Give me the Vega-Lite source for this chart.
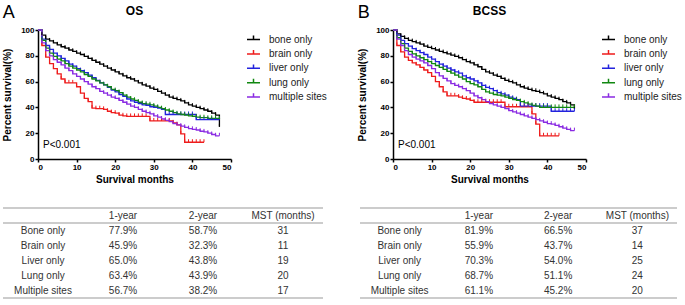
{
"$schema": "https://vega.github.io/schema/vega-lite/v6.json",
"padding": {"left": 2, "top": 4, "right": 0, "bottom": 0},
"config": {
  "font": "Liberation Sans",
  "view": {"stroke": null},
  "axis": {"domainColor": "#000", "domainWidth": 1.5, "tickColor": "#000", "tickWidth": 1.5, "tickSize": 3, "labelFont": "Liberation Sans", "labelFontWeight": "bold", "labelFontSize": 8, "labelColor": "#000", "titleFont": "Liberation Sans", "titleFontWeight": "bold", "titleFontSize": 10, "titleColor": "#000", "grid": false, "labelPadding": 1, "labelOverlap": false},
  "axisX": {"titlePadding": 3},
  "axisY": {"titlePadding": 8},
  "legend": {"orient": "right", "labelFont": "Liberation Sans", "labelFontSize": 10, "labelColor": "#222", "symbolType": "M-1,0H1M0,0V-0.6", "symbolSize": 169, "symbolStrokeWidth": 1.5, "rowPadding": 1.4, "labelOffset": 8, "offset": 12, "padding": 2},
  "title": {"font": "Liberation Sans", "color": "#000"}
},
"datasets": {
  "kmA": [
{"g":"bone only","t":0,"s":100},{"g":"bone only","t":1,"s":96},{"g":"bone only","t":2,"s":93},{"g":"bone only","t":3,"s":91.5},{"g":"bone only","t":4,"s":90},{"g":"bone only","t":5,"s":88.5},{"g":"bone only","t":6,"s":87},{"g":"bone only","t":7,"s":86},{"g":"bone only","t":8,"s":84.5},{"g":"bone only","t":9,"s":83.5},{"g":"bone only","t":10,"s":82},{"g":"bone only","t":11,"s":81},{"g":"bone only","t":12,"s":79.5},{"g":"bone only","t":13,"s":78},{"g":"bone only","t":14,"s":76.5},{"g":"bone only","t":15,"s":75},{"g":"bone only","t":16,"s":73.5},{"g":"bone only","t":17,"s":72},{"g":"bone only","t":18,"s":70.5},{"g":"bone only","t":19,"s":69},{"g":"bone only","t":20,"s":67.5},{"g":"bone only","t":21,"s":66},{"g":"bone only","t":22,"s":64.5},{"g":"bone only","t":23,"s":63},{"g":"bone only","t":24,"s":62},{"g":"bone only","t":25,"s":60.5},{"g":"bone only","t":26,"s":59},{"g":"bone only","t":27,"s":57.5},{"g":"bone only","t":28,"s":56.5},{"g":"bone only","t":29,"s":55},{"g":"bone only","t":30,"s":54},{"g":"bone only","t":31,"s":52.5},{"g":"bone only","t":32,"s":51},{"g":"bone only","t":33,"s":49.5},{"g":"bone only","t":34,"s":48},{"g":"bone only","t":35,"s":47},{"g":"bone only","t":36,"s":46},{"g":"bone only","t":37,"s":45},{"g":"bone only","t":38,"s":43.5},{"g":"bone only","t":39,"s":42},{"g":"bone only","t":40,"s":41},{"g":"bone only","t":41,"s":40},{"g":"bone only","t":42,"s":39},{"g":"bone only","t":43,"s":38},{"g":"bone only","t":44,"s":37},{"g":"bone only","t":45,"s":35.5},{"g":"bone only","t":46,"s":34},{"g":"bone only","t":47,"s":25},
{"g":"brain only","t":0,"s":100},{"g":"brain only","t":1,"s":88},{"g":"brain only","t":2,"s":79},{"g":"brain only","t":3,"s":74},{"g":"brain only","t":4,"s":70},{"g":"brain only","t":5,"s":66},{"g":"brain only","t":6,"s":62},{"g":"brain only","t":7,"s":59},{"g":"brain only","t":8,"s":59},{"g":"brain only","t":9,"s":59},{"g":"brain only","t":10,"s":56},{"g":"brain only","t":11,"s":51},{"g":"brain only","t":12,"s":47},{"g":"brain only","t":13,"s":44.5},{"g":"brain only","t":14,"s":39.5},{"g":"brain only","t":15,"s":39},{"g":"brain only","t":16,"s":39},{"g":"brain only","t":17,"s":38.5},{"g":"brain only","t":18,"s":37},{"g":"brain only","t":19,"s":36},{"g":"brain only","t":20,"s":35.5},{"g":"brain only","t":21,"s":34},{"g":"brain only","t":22,"s":33.5},{"g":"brain only","t":23,"s":33},{"g":"brain only","t":24,"s":33},{"g":"brain only","t":25,"s":33},{"g":"brain only","t":26,"s":33},{"g":"brain only","t":27,"s":33},{"g":"brain only","t":28,"s":33},{"g":"brain only","t":29,"s":29.5},{"g":"brain only","t":30,"s":29.5},{"g":"brain only","t":31,"s":29.5},{"g":"brain only","t":32,"s":29.5},{"g":"brain only","t":33,"s":29.5},{"g":"brain only","t":34,"s":29.5},{"g":"brain only","t":35,"s":28},{"g":"brain only","t":36,"s":26.5},{"g":"brain only","t":37,"s":19.5},{"g":"brain only","t":38,"s":13},{"g":"brain only","t":39,"s":13},{"g":"brain only","t":40,"s":13},{"g":"brain only","t":41,"s":13},{"g":"brain only","t":42,"s":13},{"g":"brain only","t":43,"s":13},
{"g":"liver only","t":0,"s":100},{"g":"liver only","t":1,"s":93},{"g":"liver only","t":2,"s":88},{"g":"liver only","t":3,"s":85},{"g":"liver only","t":4,"s":82},{"g":"liver only","t":5,"s":80},{"g":"liver only","t":6,"s":78},{"g":"liver only","t":7,"s":76},{"g":"liver only","t":8,"s":73.5},{"g":"liver only","t":9,"s":72},{"g":"liver only","t":10,"s":70},{"g":"liver only","t":11,"s":68.5},{"g":"liver only","t":12,"s":67},{"g":"liver only","t":13,"s":65},{"g":"liver only","t":14,"s":63},{"g":"liver only","t":15,"s":61},{"g":"liver only","t":16,"s":59},{"g":"liver only","t":17,"s":57.5},{"g":"liver only","t":18,"s":55.5},{"g":"liver only","t":19,"s":53.5},{"g":"liver only","t":20,"s":52},{"g":"liver only","t":21,"s":50},{"g":"liver only","t":22,"s":48.5},{"g":"liver only","t":23,"s":46.5},{"g":"liver only","t":24,"s":45},{"g":"liver only","t":25,"s":44},{"g":"liver only","t":26,"s":43},{"g":"liver only","t":27,"s":42},{"g":"liver only","t":28,"s":41.5},{"g":"liver only","t":29,"s":40.5},{"g":"liver only","t":30,"s":40},{"g":"liver only","t":31,"s":39.5},{"g":"liver only","t":32,"s":38.5},{"g":"liver only","t":33,"s":34.5},{"g":"liver only","t":34,"s":34.5},{"g":"liver only","t":35,"s":34.5},{"g":"liver only","t":36,"s":34.5},{"g":"liver only","t":37,"s":34.5},{"g":"liver only","t":38,"s":34.5},{"g":"liver only","t":39,"s":34.5},{"g":"liver only","t":40,"s":34.5},{"g":"liver only","t":41,"s":30.5},{"g":"liver only","t":42,"s":30.5},{"g":"liver only","t":43,"s":30.5},{"g":"liver only","t":44,"s":30.5},{"g":"liver only","t":45,"s":30.5},{"g":"liver only","t":46,"s":30.5},{"g":"liver only","t":47,"s":30.5},
{"g":"lung only","t":0,"s":100},{"g":"lung only","t":1,"s":92},{"g":"lung only","t":2,"s":86},{"g":"lung only","t":3,"s":82},{"g":"lung only","t":4,"s":79.5},{"g":"lung only","t":5,"s":77.5},{"g":"lung only","t":6,"s":76},{"g":"lung only","t":7,"s":74},{"g":"lung only","t":8,"s":72},{"g":"lung only","t":9,"s":70.5},{"g":"lung only","t":10,"s":69},{"g":"lung only","t":11,"s":67.5},{"g":"lung only","t":12,"s":65.5},{"g":"lung only","t":13,"s":64},{"g":"lung only","t":14,"s":62},{"g":"lung only","t":15,"s":60.5},{"g":"lung only","t":16,"s":59},{"g":"lung only","t":17,"s":57.5},{"g":"lung only","t":18,"s":56},{"g":"lung only","t":19,"s":54},{"g":"lung only","t":20,"s":53},{"g":"lung only","t":21,"s":51.5},{"g":"lung only","t":22,"s":49.5},{"g":"lung only","t":23,"s":48},{"g":"lung only","t":24,"s":46.5},{"g":"lung only","t":25,"s":45.5},{"g":"lung only","t":26,"s":44},{"g":"lung only","t":27,"s":43},{"g":"lung only","t":28,"s":42.5},{"g":"lung only","t":29,"s":42},{"g":"lung only","t":30,"s":41},{"g":"lung only","t":31,"s":40},{"g":"lung only","t":32,"s":39},{"g":"lung only","t":33,"s":38},{"g":"lung only","t":34,"s":37},{"g":"lung only","t":35,"s":36},{"g":"lung only","t":36,"s":35},{"g":"lung only","t":37,"s":34.5},{"g":"lung only","t":38,"s":34},{"g":"lung only","t":39,"s":33.5},{"g":"lung only","t":40,"s":33},{"g":"lung only","t":41,"s":32.5},{"g":"lung only","t":42,"s":32},{"g":"lung only","t":43,"s":32},{"g":"lung only","t":44,"s":31.5},{"g":"lung only","t":45,"s":31.5},{"g":"lung only","t":46,"s":31.5},{"g":"lung only","t":47,"s":31},
{"g":"multiple sites","t":0,"s":100},{"g":"multiple sites","t":1,"s":90},{"g":"multiple sites","t":2,"s":84},{"g":"multiple sites","t":3,"s":80},{"g":"multiple sites","t":4,"s":77},{"g":"multiple sites","t":5,"s":75},{"g":"multiple sites","t":6,"s":73},{"g":"multiple sites","t":7,"s":70.5},{"g":"multiple sites","t":8,"s":68.5},{"g":"multiple sites","t":9,"s":66},{"g":"multiple sites","t":10,"s":64},{"g":"multiple sites","t":11,"s":62},{"g":"multiple sites","t":12,"s":60},{"g":"multiple sites","t":13,"s":58},{"g":"multiple sites","t":14,"s":56},{"g":"multiple sites","t":15,"s":54.5},{"g":"multiple sites","t":16,"s":52.5},{"g":"multiple sites","t":17,"s":51},{"g":"multiple sites","t":18,"s":49.5},{"g":"multiple sites","t":19,"s":48},{"g":"multiple sites","t":20,"s":47},{"g":"multiple sites","t":21,"s":45.5},{"g":"multiple sites","t":22,"s":44},{"g":"multiple sites","t":23,"s":42.5},{"g":"multiple sites","t":24,"s":41},{"g":"multiple sites","t":25,"s":40},{"g":"multiple sites","t":26,"s":38.5},{"g":"multiple sites","t":27,"s":37},{"g":"multiple sites","t":28,"s":36},{"g":"multiple sites","t":29,"s":35},{"g":"multiple sites","t":30,"s":33.5},{"g":"multiple sites","t":31,"s":32.5},{"g":"multiple sites","t":32,"s":31},{"g":"multiple sites","t":33,"s":30},{"g":"multiple sites","t":34,"s":29},{"g":"multiple sites","t":35,"s":27.5},{"g":"multiple sites","t":36,"s":26.5},{"g":"multiple sites","t":37,"s":25.5},{"g":"multiple sites","t":38,"s":24.5},{"g":"multiple sites","t":39,"s":23.5},{"g":"multiple sites","t":40,"s":23},{"g":"multiple sites","t":41,"s":22.5},{"g":"multiple sites","t":42,"s":21.5},{"g":"multiple sites","t":43,"s":21},{"g":"multiple sites","t":44,"s":20},{"g":"multiple sites","t":45,"s":19},{"g":"multiple sites","t":46,"s":18},{"g":"multiple sites","t":47,"s":18}
  ],
  "kmB": [
{"g":"bone only","t":0,"s":100},{"g":"bone only","t":1,"s":97},{"g":"bone only","t":2,"s":95},{"g":"bone only","t":3,"s":93.5},{"g":"bone only","t":4,"s":92},{"g":"bone only","t":5,"s":91},{"g":"bone only","t":6,"s":90},{"g":"bone only","t":7,"s":89},{"g":"bone only","t":8,"s":87.5},{"g":"bone only","t":9,"s":86.5},{"g":"bone only","t":10,"s":85.5},{"g":"bone only","t":11,"s":84.5},{"g":"bone only","t":12,"s":83.5},{"g":"bone only","t":13,"s":82.5},{"g":"bone only","t":14,"s":81.5},{"g":"bone only","t":15,"s":80.5},{"g":"bone only","t":16,"s":79.5},{"g":"bone only","t":17,"s":78.5},{"g":"bone only","t":18,"s":77},{"g":"bone only","t":19,"s":75.5},{"g":"bone only","t":20,"s":74.5},{"g":"bone only","t":21,"s":73},{"g":"bone only","t":22,"s":71.5},{"g":"bone only","t":23,"s":69.5},{"g":"bone only","t":24,"s":67.5},{"g":"bone only","t":25,"s":66.5},{"g":"bone only","t":26,"s":65},{"g":"bone only","t":27,"s":64},{"g":"bone only","t":28,"s":62.5},{"g":"bone only","t":29,"s":61},{"g":"bone only","t":30,"s":60},{"g":"bone only","t":31,"s":59},{"g":"bone only","t":32,"s":57.5},{"g":"bone only","t":33,"s":56},{"g":"bone only","t":34,"s":55},{"g":"bone only","t":35,"s":54},{"g":"bone only","t":36,"s":53},{"g":"bone only","t":37,"s":52.5},{"g":"bone only","t":38,"s":51.5},{"g":"bone only","t":39,"s":50.5},{"g":"bone only","t":40,"s":49},{"g":"bone only","t":41,"s":48},{"g":"bone only","t":42,"s":47},{"g":"bone only","t":43,"s":46},{"g":"bone only","t":44,"s":44.5},{"g":"bone only","t":45,"s":43.5},{"g":"bone only","t":46,"s":42},{"g":"bone only","t":47,"s":39},
{"g":"brain only","t":0,"s":100},{"g":"brain only","t":1,"s":88},{"g":"brain only","t":2,"s":83},{"g":"brain only","t":3,"s":79},{"g":"brain only","t":4,"s":76.5},{"g":"brain only","t":5,"s":74.5},{"g":"brain only","t":6,"s":73},{"g":"brain only","t":7,"s":71},{"g":"brain only","t":8,"s":69},{"g":"brain only","t":9,"s":67},{"g":"brain only","t":10,"s":64},{"g":"brain only","t":11,"s":60},{"g":"brain only","t":12,"s":56},{"g":"brain only","t":13,"s":52},{"g":"brain only","t":14,"s":49},{"g":"brain only","t":15,"s":49},{"g":"brain only","t":16,"s":49},{"g":"brain only","t":17,"s":48},{"g":"brain only","t":18,"s":47},{"g":"brain only","t":19,"s":46.5},{"g":"brain only","t":20,"s":45.5},{"g":"brain only","t":21,"s":44},{"g":"brain only","t":22,"s":44},{"g":"brain only","t":23,"s":44},{"g":"brain only","t":24,"s":44},{"g":"brain only","t":25,"s":44},{"g":"brain only","t":26,"s":44},{"g":"brain only","t":27,"s":44},{"g":"brain only","t":28,"s":44},{"g":"brain only","t":29,"s":40.5},{"g":"brain only","t":30,"s":40.5},{"g":"brain only","t":31,"s":40.5},{"g":"brain only","t":32,"s":40.5},{"g":"brain only","t":33,"s":40.5},{"g":"brain only","t":34,"s":40.5},{"g":"brain only","t":35,"s":40.5},{"g":"brain only","t":36,"s":35},{"g":"brain only","t":37,"s":27},{"g":"brain only","t":38,"s":18},{"g":"brain only","t":39,"s":18},{"g":"brain only","t":40,"s":18},{"g":"brain only","t":41,"s":18},{"g":"brain only","t":42,"s":18},{"g":"brain only","t":43,"s":18},
{"g":"liver only","t":0,"s":100},{"g":"liver only","t":1,"s":96},{"g":"liver only","t":2,"s":92},{"g":"liver only","t":3,"s":89.5},{"g":"liver only","t":4,"s":87.5},{"g":"liver only","t":5,"s":85.5},{"g":"liver only","t":6,"s":84},{"g":"liver only","t":7,"s":82.5},{"g":"liver only","t":8,"s":81},{"g":"liver only","t":9,"s":79},{"g":"liver only","t":10,"s":77.5},{"g":"liver only","t":11,"s":75.5},{"g":"liver only","t":12,"s":73.5},{"g":"liver only","t":13,"s":72},{"g":"liver only","t":14,"s":70.5},{"g":"liver only","t":15,"s":69},{"g":"liver only","t":16,"s":67.5},{"g":"liver only","t":17,"s":66.5},{"g":"liver only","t":18,"s":64.5},{"g":"liver only","t":19,"s":63},{"g":"liver only","t":20,"s":62},{"g":"liver only","t":21,"s":60.5},{"g":"liver only","t":22,"s":59},{"g":"liver only","t":23,"s":57},{"g":"liver only","t":24,"s":55.5},{"g":"liver only","t":25,"s":54.5},{"g":"liver only","t":26,"s":53},{"g":"liver only","t":27,"s":51.5},{"g":"liver only","t":28,"s":50.5},{"g":"liver only","t":29,"s":49.5},{"g":"liver only","t":30,"s":48},{"g":"liver only","t":31,"s":47},{"g":"liver only","t":32,"s":46},{"g":"liver only","t":33,"s":41},{"g":"liver only","t":34,"s":41},{"g":"liver only","t":35,"s":41},{"g":"liver only","t":36,"s":41},{"g":"liver only","t":37,"s":41},{"g":"liver only","t":38,"s":41},{"g":"liver only","t":39,"s":41},{"g":"liver only","t":40,"s":41},{"g":"liver only","t":41,"s":37},{"g":"liver only","t":42,"s":37},{"g":"liver only","t":43,"s":37},{"g":"liver only","t":44,"s":37},{"g":"liver only","t":45,"s":37},{"g":"liver only","t":46,"s":37},{"g":"liver only","t":47,"s":37},
{"g":"lung only","t":0,"s":100},{"g":"lung only","t":1,"s":94},{"g":"lung only","t":2,"s":89.5},{"g":"lung only","t":3,"s":86},{"g":"lung only","t":4,"s":83.5},{"g":"lung only","t":5,"s":81.5},{"g":"lung only","t":6,"s":80},{"g":"lung only","t":7,"s":78.5},{"g":"lung only","t":8,"s":77},{"g":"lung only","t":9,"s":75.5},{"g":"lung only","t":10,"s":74},{"g":"lung only","t":11,"s":72.5},{"g":"lung only","t":12,"s":71},{"g":"lung only","t":13,"s":69.5},{"g":"lung only","t":14,"s":68},{"g":"lung only","t":15,"s":66.5},{"g":"lung only","t":16,"s":65},{"g":"lung only","t":17,"s":63.5},{"g":"lung only","t":18,"s":62},{"g":"lung only","t":19,"s":60},{"g":"lung only","t":20,"s":58.5},{"g":"lung only","t":21,"s":57.5},{"g":"lung only","t":22,"s":56},{"g":"lung only","t":23,"s":54},{"g":"lung only","t":24,"s":52},{"g":"lung only","t":25,"s":51},{"g":"lung only","t":26,"s":50},{"g":"lung only","t":27,"s":49.5},{"g":"lung only","t":28,"s":49},{"g":"lung only","t":29,"s":48},{"g":"lung only","t":30,"s":47},{"g":"lung only","t":31,"s":46},{"g":"lung only","t":32,"s":45.5},{"g":"lung only","t":33,"s":44.5},{"g":"lung only","t":34,"s":43.5},{"g":"lung only","t":35,"s":42.5},{"g":"lung only","t":36,"s":41.5},{"g":"lung only","t":37,"s":41},{"g":"lung only","t":38,"s":40},{"g":"lung only","t":39,"s":40},{"g":"lung only","t":40,"s":40},{"g":"lung only","t":41,"s":40},{"g":"lung only","t":42,"s":40},{"g":"lung only","t":43,"s":40},{"g":"lung only","t":44,"s":40},{"g":"lung only","t":45,"s":40},{"g":"lung only","t":46,"s":40},{"g":"lung only","t":47,"s":40},
{"g":"multiple sites","t":0,"s":100},{"g":"multiple sites","t":1,"s":93},{"g":"multiple sites","t":2,"s":88},{"g":"multiple sites","t":3,"s":84},{"g":"multiple sites","t":4,"s":81},{"g":"multiple sites","t":5,"s":79},{"g":"multiple sites","t":6,"s":77.5},{"g":"multiple sites","t":7,"s":76},{"g":"multiple sites","t":8,"s":74.5},{"g":"multiple sites","t":9,"s":72.5},{"g":"multiple sites","t":10,"s":70},{"g":"multiple sites","t":11,"s":67},{"g":"multiple sites","t":12,"s":64.5},{"g":"multiple sites","t":13,"s":62.5},{"g":"multiple sites","t":14,"s":60.5},{"g":"multiple sites","t":15,"s":58.5},{"g":"multiple sites","t":16,"s":57},{"g":"multiple sites","t":17,"s":56},{"g":"multiple sites","t":18,"s":54.5},{"g":"multiple sites","t":19,"s":53},{"g":"multiple sites","t":20,"s":51},{"g":"multiple sites","t":21,"s":49},{"g":"multiple sites","t":22,"s":47.5},{"g":"multiple sites","t":23,"s":46},{"g":"multiple sites","t":24,"s":44.5},{"g":"multiple sites","t":25,"s":43},{"g":"multiple sites","t":26,"s":42},{"g":"multiple sites","t":27,"s":41},{"g":"multiple sites","t":28,"s":40},{"g":"multiple sites","t":29,"s":39},{"g":"multiple sites","t":30,"s":37.5},{"g":"multiple sites","t":31,"s":36.5},{"g":"multiple sites","t":32,"s":35.5},{"g":"multiple sites","t":33,"s":34.5},{"g":"multiple sites","t":34,"s":33.5},{"g":"multiple sites","t":35,"s":32.5},{"g":"multiple sites","t":36,"s":31.5},{"g":"multiple sites","t":37,"s":30.5},{"g":"multiple sites","t":38,"s":29.5},{"g":"multiple sites","t":39,"s":28.5},{"g":"multiple sites","t":40,"s":27.5},{"g":"multiple sites","t":41,"s":27},{"g":"multiple sites","t":42,"s":26},{"g":"multiple sites","t":43,"s":25},{"g":"multiple sites","t":44,"s":24},{"g":"multiple sites","t":45,"s":23},{"g":"multiple sites","t":46,"s":22},{"g":"multiple sites","t":47,"s":22}
  ],
  "tA": [
{"row":"header","col":"1-year","v":"1-year"},{"row":"header","col":"2-year","v":"2-year"},{"row":"header","col":"MST (months)","v":"MST (months)"},
{"row":"Bone only","col":"label","v":"Bone only"},{"row":"Bone only","col":"1-year","v":"77.9%"},{"row":"Bone only","col":"2-year","v":"58.7%"},{"row":"Bone only","col":"MST (months)","v":"31"},
{"row":"Brain only","col":"label","v":"Brain only"},{"row":"Brain only","col":"1-year","v":"45.9%"},{"row":"Brain only","col":"2-year","v":"32.3%"},{"row":"Brain only","col":"MST (months)","v":"11"},
{"row":"Liver only","col":"label","v":"Liver only"},{"row":"Liver only","col":"1-year","v":"65.0%"},{"row":"Liver only","col":"2-year","v":"43.8%"},{"row":"Liver only","col":"MST (months)","v":"19"},
{"row":"Lung only","col":"label","v":"Lung only"},{"row":"Lung only","col":"1-year","v":"63.4%"},{"row":"Lung only","col":"2-year","v":"43.9%"},{"row":"Lung only","col":"MST (months)","v":"20"},
{"row":"Multiple sites","col":"label","v":"Multiple sites"},{"row":"Multiple sites","col":"1-year","v":"56.7%"},{"row":"Multiple sites","col":"2-year","v":"38.2%"},{"row":"Multiple sites","col":"MST (months)","v":"17"}
  ],
  "tB": [
{"row":"header","col":"1-year","v":"1-year"},{"row":"header","col":"2-year","v":"2-year"},{"row":"header","col":"MST (months)","v":"MST (months)"},
{"row":"Bone only","col":"label","v":"Bone only"},{"row":"Bone only","col":"1-year","v":"81.9%"},{"row":"Bone only","col":"2-year","v":"66.5%"},{"row":"Bone only","col":"MST (months)","v":"37"},
{"row":"Brain only","col":"label","v":"Brain only"},{"row":"Brain only","col":"1-year","v":"55.9%"},{"row":"Brain only","col":"2-year","v":"43.7%"},{"row":"Brain only","col":"MST (months)","v":"14"},
{"row":"Liver only","col":"label","v":"Liver only"},{"row":"Liver only","col":"1-year","v":"70.3%"},{"row":"Liver only","col":"2-year","v":"54.0%"},{"row":"Liver only","col":"MST (months)","v":"25"},
{"row":"Lung only","col":"label","v":"Lung only"},{"row":"Lung only","col":"1-year","v":"68.7%"},{"row":"Lung only","col":"2-year","v":"51.1%"},{"row":"Lung only","col":"MST (months)","v":"24"},
{"row":"Multiple sites","col":"label","v":"Multiple sites"},{"row":"Multiple sites","col":"1-year","v":"61.1%"},{"row":"Multiple sites","col":"2-year","v":"45.2%"},{"row":"Multiple sites","col":"MST (months)","v":"20"}
  ]
},
"spacing": 23,
"vconcat": [
  {
    "spacing": 28,
    "hconcat": [
      {
        "title": {"text": "A", "fontSize": 18, "fontWeight": "normal", "anchor": "start", "offset": -17},
        "vconcat": [
          {
            "title": {"text": "OS", "fontSize": 12, "fontWeight": "bold", "anchor": "middle", "frame": "group", "offset": 8},
            "width": 193, "height": 129,
            "data": {"name": "kmA"},
            "layer": [
              {"mark": {"type": "line", "interpolate": "step-after", "strokeWidth": 1.3},
               "encoding": {
                 "x": {"field": "t", "type": "quantitative", "scale": {"domain": [0, 50], "nice": false}, "axis": {"values": [0, 10, 20, 30, 40, 50], "tickCount": 6, "labelOverlap": false, "title": "Survival months"}},
                 "y": {"field": "s", "type": "quantitative", "scale": {"domain": [0, 100], "nice": false}, "axis": {"values": [0, 20, 40, 60, 80, 100], "tickCount": 6, "labelOverlap": false, "title": "Percent survival(%)"}},
                 "color": {"field": "g", "type": "nominal", "title": null, "scale": {"domain": ["bone only", "brain only", "liver only", "lung only", "multiple sites"], "range": ["#000000", "#ee1c1c", "#2323dd", "#118811", "#8a2be2"]}}}},
              {"transform": [{"filter": "datum.t > 0"}],
               "mark": {"type": "point", "shape": "M0,0V-1", "size": 36, "strokeWidth": 1, "filled": false, "opacity": 1},
               "encoding": {
                 "x": {"field": "t", "type": "quantitative"},
                 "y": {"field": "s", "type": "quantitative"},
                 "color": {"field": "g", "type": "nominal", "title": null}}},
              {"data": {"values": [{"label": "P<0.001"}]},
               "mark": {"type": "text", "align": "left", "fontSize": 10, "color": "#000"},
               "encoding": {"x": {"datum": 1.3}, "y": {"datum": 11}, "text": {"field": "label"}}}
            ]
          }
        ]
      },
      {
        "title": {"text": "B", "fontSize": 18, "fontWeight": "normal", "anchor": "start", "offset": -17},
        "vconcat": [
          {
            "title": {"text": "BCSS", "fontSize": 12, "fontWeight": "bold", "anchor": "middle", "frame": "group", "offset": 8},
            "width": 193, "height": 129,
            "data": {"name": "kmB"},
            "layer": [
              {"mark": {"type": "line", "interpolate": "step-after", "strokeWidth": 1.3},
               "encoding": {
                 "x": {"field": "t", "type": "quantitative", "scale": {"domain": [0, 50], "nice": false}, "axis": {"values": [0, 10, 20, 30, 40, 50], "tickCount": 6, "labelOverlap": false, "title": "Survival months"}},
                 "y": {"field": "s", "type": "quantitative", "scale": {"domain": [0, 100], "nice": false}, "axis": {"values": [0, 20, 40, 60, 80, 100], "tickCount": 6, "labelOverlap": false, "title": "Percent survival(%)"}},
                 "color": {"field": "g", "type": "nominal", "title": null, "scale": {"domain": ["bone only", "brain only", "liver only", "lung only", "multiple sites"], "range": ["#000000", "#ee1c1c", "#2323dd", "#118811", "#8a2be2"]}}}},
              {"transform": [{"filter": "datum.t > 0"}],
               "mark": {"type": "point", "shape": "M0,0V-1", "size": 36, "strokeWidth": 1, "filled": false, "opacity": 1},
               "encoding": {
                 "x": {"field": "t", "type": "quantitative"},
                 "y": {"field": "s", "type": "quantitative"},
                 "color": {"field": "g", "type": "nominal", "title": null}}},
              {"data": {"values": [{"label": "P<0.001"}]},
               "mark": {"type": "text", "align": "left", "fontSize": 10, "color": "#000"},
               "encoding": {"x": {"datum": 1.3}, "y": {"datum": 11}, "text": {"field": "label"}}}
            ]
          }
        ]
      }
    ],
    "resolve": {"scale": {"color": "independent"}, "legend": {"color": "independent"}}
  },
  {
    "spacing": 35,
    "hconcat": [
      {
        "width": 285, "height": 90,
        "data": {"name": "tA"},
        "layer": [
          {"mark": {"type": "text", "fontSize": 10, "color": "#333"},
           "encoding": {
             "x": {"field": "col", "type": "nominal", "scale": {"type": "band", "domain": ["label", "1-year", "2-year", "MST (months)"], "range": [-35, 285], "paddingInner": 0, "paddingOuter": 0}, "axis": null},
             "y": {"field": "row", "type": "nominal", "scale": {"type": "band", "domain": ["header", "Bone only", "Brain only", "Liver only", "Lung only", "Multiple sites"], "paddingInner": 0, "paddingOuter": 0}, "axis": null},
             "text": {"field": "v"}}},
          {"data": {"values": [{"row": "header"}]},
           "mark": {"type": "rule", "color": "#999", "strokeWidth": 1},
           "encoding": {"x": {"datum": "label", "bandPosition": 0}, "x2": {"datum": "MST (months)", "bandPosition": 1}, "y": {"field": "row", "type": "nominal", "bandPosition": 0}}},
          {"data": {"values": [{"row": "header"}, {"row": "Multiple sites"}]},
           "mark": {"type": "rule", "color": "#999", "strokeWidth": 1},
           "encoding": {"x": {"datum": "label", "bandPosition": 0}, "x2": {"datum": "MST (months)", "bandPosition": 1}, "y": {"field": "row", "type": "nominal", "bandPosition": 1}}}
        ]
      },
      {
        "width": 282, "height": 90,
        "data": {"name": "tB"},
        "layer": [
          {"mark": {"type": "text", "fontSize": 10, "color": "#333"},
           "encoding": {
             "x": {"field": "col", "type": "nominal", "scale": {"type": "band", "domain": ["label", "1-year", "2-year", "MST (months)"], "range": [-35, 282], "paddingInner": 0, "paddingOuter": 0}, "axis": null},
             "y": {"field": "row", "type": "nominal", "scale": {"type": "band", "domain": ["header", "Bone only", "Brain only", "Liver only", "Lung only", "Multiple sites"], "paddingInner": 0, "paddingOuter": 0}, "axis": null},
             "text": {"field": "v"}}},
          {"data": {"values": [{"row": "header"}]},
           "mark": {"type": "rule", "color": "#999", "strokeWidth": 1},
           "encoding": {"x": {"datum": "label", "bandPosition": 0}, "x2": {"datum": "MST (months)", "bandPosition": 1}, "y": {"field": "row", "type": "nominal", "bandPosition": 0}}},
          {"data": {"values": [{"row": "header"}, {"row": "Multiple sites"}]},
           "mark": {"type": "rule", "color": "#999", "strokeWidth": 1},
           "encoding": {"x": {"datum": "label", "bandPosition": 0}, "x2": {"datum": "MST (months)", "bandPosition": 1}, "y": {"field": "row", "type": "nominal", "bandPosition": 1}}}
        ]
      }
    ]
  }
]
}
